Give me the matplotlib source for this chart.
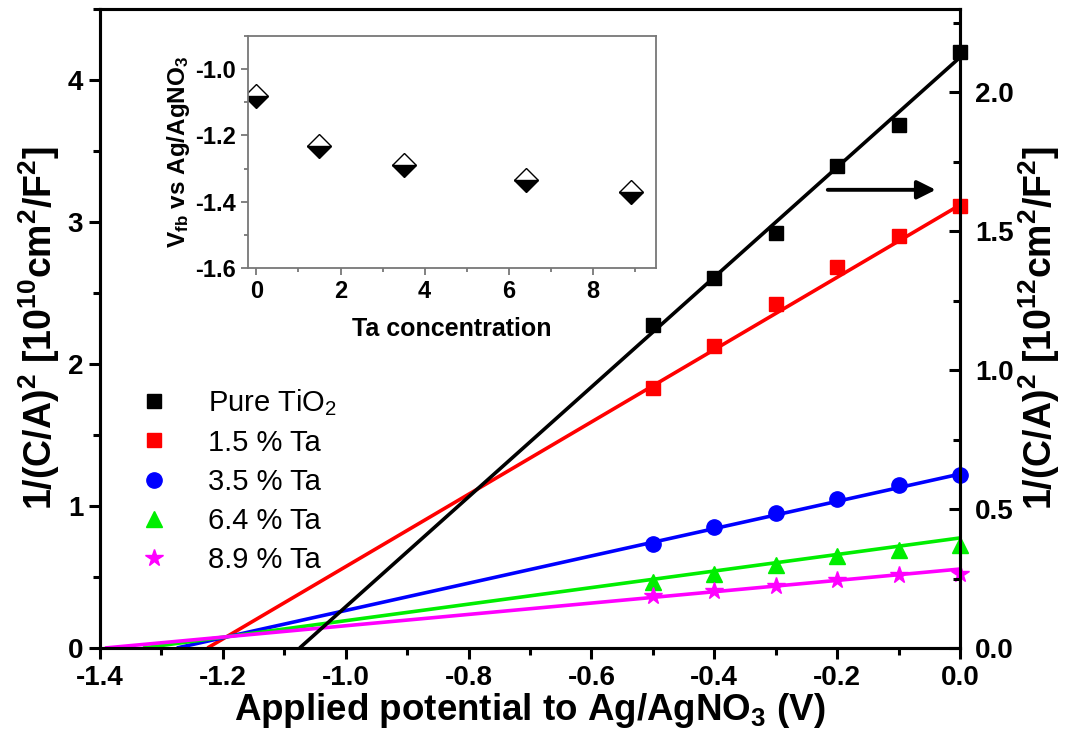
import numpy as np
import matplotlib
matplotlib.use('Agg')
import matplotlib.pyplot as plt
from matplotlib.ticker import MultipleLocator

plt.rcParams['font.family'] = ['Liberation Sans', 'DejaVu Sans']
plt.rcParams['mathtext.default'] = 'regular'
plt.rcParams['axes.unicode_minus'] = False

# applied potential (V) for the measured points
potential = [-0.5, -0.4, -0.3, -0.2, -0.1, 0.0]

# 1/(C/A)^2 values, Pure TiO2 on right axis (1e12), others on left axis (1e10)
pure_tio2 = [1.162, 1.331, 1.493, 1.734, 1.881, 2.144]
ta_15 = [1.83, 2.13, 2.42, 2.68, 2.90, 3.11]
ta_35 = [0.732, 0.85, 0.951, 1.049, 1.148, 1.218]
ta_64 = [0.467, 0.521, 0.585, 0.646, 0.692, 0.725]
ta_89 = [0.368, 0.403, 0.439, 0.481, 0.514, 0.521]

# linear fits: x-intercept (flat band) and value at 0 V
fit_x0 = [-1.075, -1.225, -1.275, -1.33, -1.392]
fit_end = [2.126, 3.12, 1.225, 0.775, 0.556]

labels = ['Pure TiO$_2$', '1.5 % Ta', '3.5 % Ta', '6.4 % Ta', '8.9 % Ta']
colors = ['black', '#ff0000', '#0000ff', '#00ee00', '#ff00ff']
markers = ['s', 's', 'o', '^', '*']
sizes = [10, 10, 11, 11, 13]

# inset: flat band potential vs Ta concentration
ta_conc = [0, 1.5, 3.5, 6.4, 8.9]
v_fb = [-1.08, -1.232, -1.29, -1.335, -1.37]

fig = plt.figure(figsize=(10.66, 7.48), dpi=100)
ax = fig.add_axes([0.0938, 0.1337, 0.8068, 0.8543])
ax2 = ax.twinx()

series = [pure_tio2, ta_15, ta_35, ta_64, ta_89]
handles = []
for i, vals in enumerate(series):
    a = ax2 if i == 0 else ax
    a.plot([fit_x0[i], 0.0], [0.0, fit_end[i]], color=colors[i], lw=2.6,
           solid_capstyle='butt', zorder=2)
    h, = a.plot(potential, vals, ls='none', marker=markers[i], ms=sizes[i],
                color=colors[i], mec=colors[i], label=labels[i], zorder=3,
                clip_on=False)
    handles.append(h)

ax.set_xlim(-1.4, 0.0)
ax.set_ylim(0, 4.5)
ax2.set_ylim(0, 2.3)

ax.xaxis.set_minor_locator(MultipleLocator(0.1))
ax.yaxis.set_major_locator(MultipleLocator(1))
ax.yaxis.set_minor_locator(MultipleLocator(0.5))
ax2.yaxis.set_minor_locator(MultipleLocator(0.25))
xt = np.round(np.arange(-1.4, 0.01, 0.2), 1)
ax.set_xticks(xt)
ax.set_xticklabels(['%.1f' % abs(v) if v == 0 else '%.1f' % v for v in xt])
ax2.set_yticks([0.0, 0.5, 1.0, 1.5, 2.0])
ax2.set_yticklabels(['0.0', '0.5', '1.0', '1.5', '2.0'])

for a in (ax, ax2):
    for s in a.spines.values():
        s.set_linewidth(2.2)

ax.tick_params(axis='both', which='major', direction='out', length=8, width=2.2,
               labelsize=20, pad=4)
ax.tick_params(axis='both', which='minor', direction='out', length=5, width=2.2)
ax2.tick_params(axis='y', which='major', direction='in', length=8, width=2.2,
                labelsize=20, pad=11)
ax2.tick_params(axis='y', which='minor', direction='in', length=5, width=2.2)
for lab in ax.get_xticklabels() + ax.get_yticklabels() + ax2.get_yticklabels():
    lab.set_fontweight('bold')

ax.set_xlabel('Applied potential to Ag/AgNO$_3$ (V)', fontsize=26.5,
              fontweight='bold', labelpad=0)
ax.set_ylabel('1/(C/A)$^2$ [10$^{10}$cm$^2$/F$^2$]', fontsize=27,
              fontweight='bold', labelpad=4)
ax2.set_ylabel('1/(C/A)$^2$ [10$^{12}$cm$^2$/F$^2$]', fontsize=27,
               fontweight='bold', labelpad=2)

leg = ax.legend(handles=handles, loc='upper left', bbox_to_anchor=(0.034, 0.427),
                frameon=False, fontsize=21, handlelength=0.9, handletextpad=1.4,
                labelspacing=0.38, borderaxespad=0)

ax.annotate('', xy=(0.975, 0.717), xytext=(0.843, 0.717),
            xycoords='axes fraction', textcoords='axes fraction',
            arrowprops=dict(arrowstyle='-|>', color='black', lw=2.8,
                            mutation_scale=28))

# inset
ins = fig.add_axes([0.2326, 0.6417, 0.3828, 0.3102])
ins.plot(ta_conc, v_fb, ls='none', marker='D', ms=12, fillstyle='bottom',
         mfc='black', mfcalt='white', mec='black', mew=1.0)
ins.set_xlim(-0.2, 9.5)
ins.set_ylim(-1.6, -0.9)
ins.xaxis.set_major_locator(MultipleLocator(2))
ins.xaxis.set_minor_locator(MultipleLocator(1))
ins.yaxis.set_minor_locator(MultipleLocator(0.1))
ins.set_yticks([-1.6, -1.4, -1.2, -1.0])
for s in ins.spines.values():
    s.set_color('#777777')
    s.set_linewidth(1.3)
ins.tick_params(which='major', direction='out', length=5, width=1.3,
                color='#777777', labelsize=17)
ins.tick_params(which='minor', direction='out', length=3, width=1.3,
                color='#777777')
for lab in ins.get_xticklabels() + ins.get_yticklabels():
    lab.set_fontweight('bold')
ins.set_xlabel('Ta concentration', fontsize=18, fontweight='bold', labelpad=10)
ins.set_ylabel('V$_{fb}$ vs Ag/AgNO$_3$', fontsize=17.5, fontweight='bold',
               labelpad=2)

fig.savefig('out.png', dpi=100)
